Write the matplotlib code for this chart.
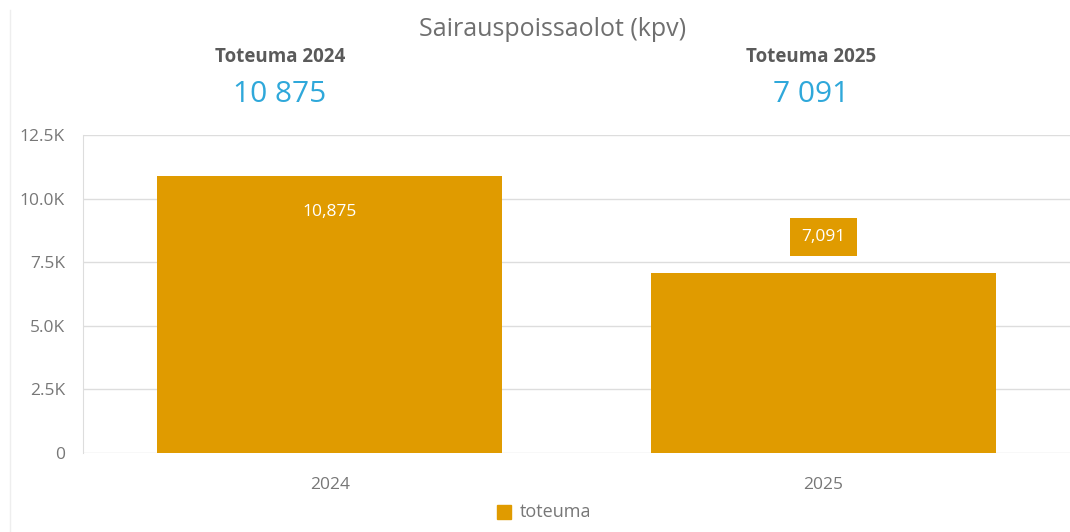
import matplotlib.pyplot as plt
from matplotlib.lines import Line2D
from matplotlib.ticker import FuncFormatter

plt.rcParams['font.family'] = ['Open Sans', 'DejaVu Sans']

# data
years = ['2024', '2025']
toteuma = [10875, 7091]
header_labels = ['Toteuma 2024', 'Toteuma 2025']
header_values = ['10 875', '7 091']
bar_labels = ['10,875', '7,091']
y_ticks = [0, 2500, 5000, 7500, 10000, 12500]

bar_color = '#E09B00'
grid_color = '#DDDDDD'
text_gray = '#777777'

fig = plt.figure(figsize=(10.7, 5.32), dpi=100)
ax = fig.add_axes([83 / 1070, 79 / 532, 987 / 1070, 318 / 532])

x = list(range(len(years)))
ax.bar(x, toteuma, width=0.70, color=bar_color, zorder=3)

ax.set_xlim(-0.5, 1.5)
ax.set_ylim(0, 12500)
ax.set_yticks(y_ticks)
ax.yaxis.set_major_formatter(FuncFormatter(lambda v, p: '0' if v == 0 else f'{v / 1000:.1f}K'))
ax.set_xticks(x)
ax.set_xticklabels(years)
ax.tick_params(axis='both', length=0, colors=text_gray, labelsize=12.5)
ax.tick_params(axis='y', pad=13)
ax.tick_params(axis='x', pad=17)
ax.yaxis.grid(True, color=grid_color, linewidth=1, zorder=0)

for s in ['top', 'right', 'bottom']:
    ax.spines[s].set_visible(False)
ax.spines['left'].set_color(grid_color)

# bar value labels
ax.text(x[0], toteuma[0] - 1400, bar_labels[0], color='white', ha='center', va='center',
        fontsize=12.5, zorder=4)
ax.text(x[1], toteuma[1] + 1400, bar_labels[1], color='white', ha='center', va='center',
        fontsize=12.5, zorder=4,
        bbox=dict(boxstyle='square,pad=0.65', facecolor=bar_color, edgecolor='none'))

# title and header cards
fig.text(553 / 1070, 1 - 30 / 532, 'Sairauspoissaolot (kpv)', ha='center', va='center',
         fontsize=18, color='#6F6F6F')
for xc, lab, val in zip([280, 811], header_labels, header_values):
    fig.text(xc / 1070, 1 - 57 / 532, lab, ha='center', va='center', fontsize=13.5,
             fontweight='bold', color='#5A5A5A')
    fig.text(xc / 1070, 1 - 95 / 532, val, ha='center', va='center', fontsize=21.5,
             color='#2FA8DA')

# legend
fig.patches.append(plt.Rectangle((497 / 1070, 1 - 519 / 532), 14 / 1070, 14 / 532,
                                 transform=fig.transFigure, color=bar_color))
fig.text(520 / 1070, 1 - 512 / 532, 'toteuma', ha='left', va='center', fontsize=13,
         color=text_gray)

# faint card border on the left
fig.lines.append(Line2D([10 / 1070, 10 / 1070], [0, 1 - 10 / 532], transform=fig.transFigure,
                        color='#EEEEEE', linewidth=1))

fig.savefig('out.png', dpi=100)
